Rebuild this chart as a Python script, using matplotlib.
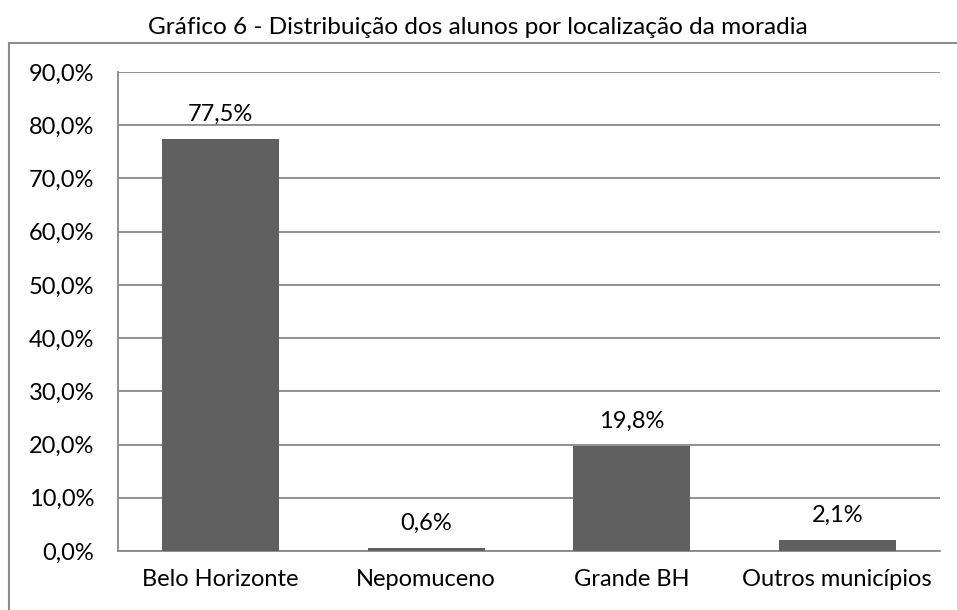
import matplotlib.pyplot as plt
from matplotlib.lines import Line2D

categories = ['Belo Horizonte', 'Nepomuceno', 'Grande BH', 'Outros municípios']
values = [77.5, 0.6, 19.8, 2.1]
yticks = [0, 10, 20, 30, 40, 50, 60, 70, 80, 90]

plt.rcParams['font.family'] = ['Lato', 'DejaVu Sans']
fs = 17

fig = plt.figure(figsize=(9.57, 6.10), dpi=100)
ax = fig.add_axes([118 / 957, 1 - 551 / 610, (940 - 118) / 957, (551 - 72) / 610])

# outer frame (only left and top edges visible)
frame_col = '#8c8c8c'
fig.add_artist(Line2D([9 / 957, 9 / 957], [0, 1 - 43 / 610], transform=fig.transFigure,
                      color=frame_col, lw=1.5))
fig.add_artist(Line2D([9 / 957, 1], [1 - 43 / 610, 1 - 43 / 610], transform=fig.transFigure,
                      color=frame_col, lw=1.5))

x = range(len(categories))
ax.bar(x, values, width=0.57, color='#606060', zorder=3)
for i, v in enumerate(values):
    ax.annotate(f'{v:.1f}%'.replace('.', ','), (i, v), xytext=(0, 10), textcoords='offset points',
                ha='center', va='bottom', fontsize=fs)

ax.set_xlim(-0.5, len(categories) - 0.5)
ax.set_ylim(0, 90)
ax.set_yticks(yticks)
ax.set_yticklabels([f'{t:.1f}%'.replace('.', ',') for t in yticks], fontsize=fs)
ax.set_xticks(list(x))
ax.set_xticklabels(categories, fontsize=fs)
ax.tick_params(axis='y', length=0, pad=17)
ax.tick_params(axis='x', length=0, pad=13)
ax.grid(axis='y', color='#888888', lw=1.3, zorder=0)
for s in ['top', 'right']:
    ax.spines[s].set_visible(False)
for s in ['left', 'bottom']:
    ax.spines[s].set_color('#888888')
    ax.spines[s].set_linewidth(1.3)

fig.text(478 / 957, 1 - 28 / 610, 'Gráfico 6 - Distribuição dos alunos por localização da moradia',
         ha='center', va='center', fontsize=17.6)

fig.savefig('out.png', dpi=100)
